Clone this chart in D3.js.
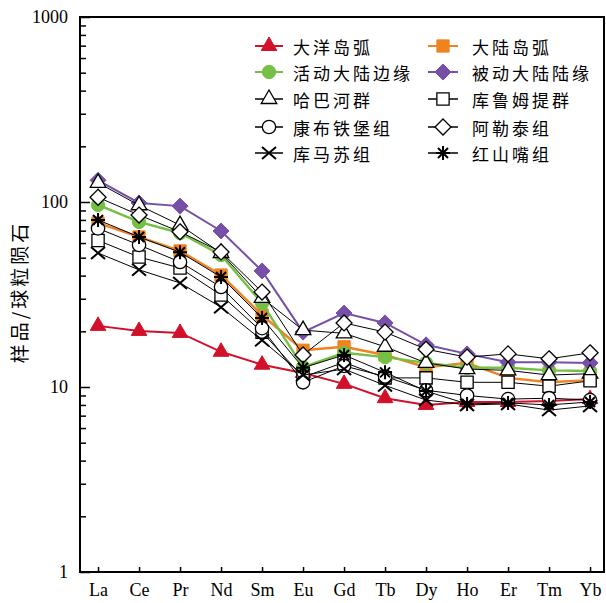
<!DOCTYPE html>
<html>
<head>
<meta charset="utf-8">
<script src="https://cdn.jsdelivr.net/npm/d3@7"></script>
<style>
  body { margin: 0; background: #fff; }
  svg text { fill: #000; }
</style>
</head>
<body>
<svg width="606" height="603"></svg>
<script>
const elements = ["La", "Ce", "Pr", "Nd", "Sm", "Eu", "Gd", "Tb", "Dy", "Ho", "Er", "Tm", "Yb"];

// chondrite-normalised REE
const oceanArc = [21.4, 20.1, 19.6, 15.5, 13.2, 11.9, 10.4, 8.7, 8.0, 8.3, 8.3, 8.4, 8.6];
const continentalArc = [77, 64.7, 54.4, 40.3, 24.5, 15.8, 16.5, 14.9, 12.8, 13.5, 11.2, 10.6, 10.9];
const activeMargin = [96.4, 78, 68, 51.7, 28.4, 12.8, 15.3, 14.5, 13.5, 12.7, 12.7, 12.3, 12.2];
const passiveMargin = [131, 98.8, 95, 69.7, 42.4, 19.8, 25.1, 22.2, 16.9, 15.1, 13.6, 13.6, 13.5];
const habaGroup = [127, 96, 75, 53, 30.3, 20.3, 19.5, 16.5, 13.5, 12.5, 12.3, 11.6, 11.8];
const kulumutiGroup = [62, 50.4, 44, 31.4, 19.8, 11.3, 13.6, 11.2, 11.2, 10.6, 10.6, 10.1, 10.8];
const kangbutiebaoGroup = [72, 58.6, 47.4, 34.7, 20.8, 10.6, 13, 11.4, 9.6, 9.0, 8.6, 8.7, 8.5];
const aletaiGroup = [106, 85, 69, 53.7, 32.6, 14.9, 22.2, 19.8, 16.0, 14.5, 15.1, 14.2, 15.3];
const kumasuGroup = [53, 43, 36.5, 27, 17.9, 11.6, 12.5, 10.2, 8.5, 8.0, 8.1, 7.5, 7.9];
const hongshanzuiGroup = [80, 64.7, 53.5, 39.3, 23.6, 12.7, 14.9, 12.0, 9.5, 8.1, 8.2, 8.0, 8.3];

const yMajor = [1, 10, 100, 1000];

const series = [
  { name: "大洋岛弧", values: oceanArc, color: "#d2102a", shape: "triangle", filled: true, w: 2 },
  { name: "大陆岛弧", values: continentalArc, color: "#f08220", shape: "square", filled: true, w: 2.4 },
  { name: "活动大陆边缘", values: activeMargin, color: "#74bf44", shape: "circle", filled: true, w: 2.4 },
  { name: "被动大陆陆缘", values: passiveMargin, color: "#7650a8", shape: "diamond", filled: true, w: 2 },
  { name: "哈巴河群", values: habaGroup, color: "#000", shape: "triangle", filled: false, w: 1 },
  { name: "库鲁姆提群", values: kulumutiGroup, color: "#000", shape: "square", filled: false, w: 1 },
  { name: "康布铁堡组", values: kangbutiebaoGroup, color: "#000", shape: "circle", filled: false, w: 1 },
  { name: "阿勒泰组", values: aletaiGroup, color: "#000", shape: "diamond", filled: false, w: 1 },
  { name: "库马苏组", values: kumasuGroup, color: "#000", shape: "x", filled: false, w: 1 },
  { name: "红山嘴组", values: hongshanzuiGroup, color: "#000", shape: "star", filled: false, w: 1 }
];

const svg = d3.select("svg");
const plotLeft = 80, plotRight = 604, plotTop = 17, plotBottom = 572;

const x = d3.scaleLinear().domain([-0.44, 12.34]).range([plotLeft, plotRight]);
const y = d3.scaleLog().domain([1, 1000]).range([plotBottom, plotTop]);

const minorTicks = [];
[1, 10, 100].forEach((d) => { for (let k = 2; k <= 9; k++) minorTicks.push(d * k); });

function markerPath(shape) {
  if (shape === "triangle") return d3.symbol(d3.symbolTriangle, 105)();
  if (shape === "square") return d3.symbol(d3.symbolSquare, 150)();
  if (shape === "circle") return d3.symbol(d3.symbolCircle, 140)();
  if (shape === "diamond") return "M0,-8L8,0L0,8L-8,0Z";
  if (shape === "x") return "M-7,-6L7,6M-7,6L7,-6";
  if (shape === "star") return "M-7,0L7,0M0,-7L0,7M-5,-5L5,5M-5,5L5,-5";
}

function drawMarker(g, s) {
  const open = s.shape === "x" || s.shape === "star";
  g.append("path")
    .attr("d", markerPath(s.shape))
    .attr("fill", s.filled ? s.color : (open ? "none" : "#fff"))
    .attr("stroke", s.color)
    .attr("stroke-width", s.filled ? 1 : (open ? 2 : 1.3));
}

// axes
svg.append("g")
  .attr("transform", `translate(${plotLeft},0)`)
  .call(d3.axisLeft(y).tickValues(minorTicks).tickSize(-6).tickFormat(""))
  .call((g) => g.select(".domain").remove())
  .selectAll("line").attr("stroke-width", 1.5);

svg.append("g")
  .attr("transform", `translate(${plotLeft},0)`)
  .call(d3.axisLeft(y).tickValues(yMajor).tickFormat(d3.format("d")).tickSizeInner(-10).tickSizeOuter(0).tickPadding(12))
  .call((g) => g.select(".domain").remove())
  .call((g) => g.selectAll("line").attr("stroke-width", 1.5))
  .call((g) => g.selectAll("text").attr("font-family", "Liberation Serif").attr("font-size", 18));

svg.append("g")
  .attr("transform", `translate(0,${plotBottom})`)
  .call(d3.axisBottom(x).tickValues(d3.range(elements.length)).tickFormat((i) => elements[i]).tickSizeInner(-5).tickSizeOuter(0).tickPadding(11))
  .call((g) => g.select(".domain").remove())
  .call((g) => g.selectAll("line").attr("stroke-width", 1.5))
  .call((g) => g.selectAll("text").attr("font-family", "Liberation Serif").attr("font-size", 18));

svg.append("rect")
  .attr("x", plotLeft).attr("y", plotTop)
  .attr("width", plotRight - plotLeft).attr("height", plotBottom - plotTop)
  .attr("fill", "none").attr("stroke", "#000").attr("stroke-width", 2);

svg.append("text")
  .attr("transform", `translate(18,292) rotate(-90)`)
  .attr("text-anchor", "middle")
  .attr("dominant-baseline", "central")
  .attr("font-family", "Noto Sans CJK SC")
  .attr("font-size", 19)
  .attr("letter-spacing", 3)
  .text("样品/球粒陨石");

// series
const line = d3.line().x((d, i) => x(i)).y((d) => y(d));

series.forEach((s) => {
  const g = svg.append("g");
  g.append("path")
    .attr("d", line(s.values))
    .attr("fill", "none")
    .attr("stroke", s.color)
    .attr("stroke-width", s.w);
  g.selectAll(".pt")
    .data(s.values)
    .enter()
    .append("g")
    .attr("transform", (d, i) => `translate(${x(i)},${y(d)})`)
    .each(function () { drawMarker(d3.select(this), s); });
});

// legend
const legendRows = [46, 72, 99, 127, 153];
const legendCols = [{ x0: 255, x1: 283, tx: 293 }, { x0: 428, x1: 458, tx: 472 }];

series.forEach((s, i) => {
  const c = legendCols[i % 2];
  const ry = legendRows[Math.floor(i / 2)];
  const g = svg.append("g");
  g.append("line")
    .attr("x1", c.x0).attr("x2", c.x1)
    .attr("y1", ry).attr("y2", ry)
    .attr("stroke", s.color)
    .attr("stroke-width", s.filled ? 2 : 1.5);
  const mg = g.append("g").attr("transform", `translate(${(c.x0 + c.x1) / 2},${ry})`);
  drawMarker(mg, s);
  g.append("text")
    .attr("x", c.tx).attr("y", ry)
    .attr("dominant-baseline", "central")
    .attr("font-family", "Noto Sans CJK SC")
    .attr("font-size", 17)
    .attr("letter-spacing", 3)
    .text(s.name);
});
</script>
</body>
</html>
